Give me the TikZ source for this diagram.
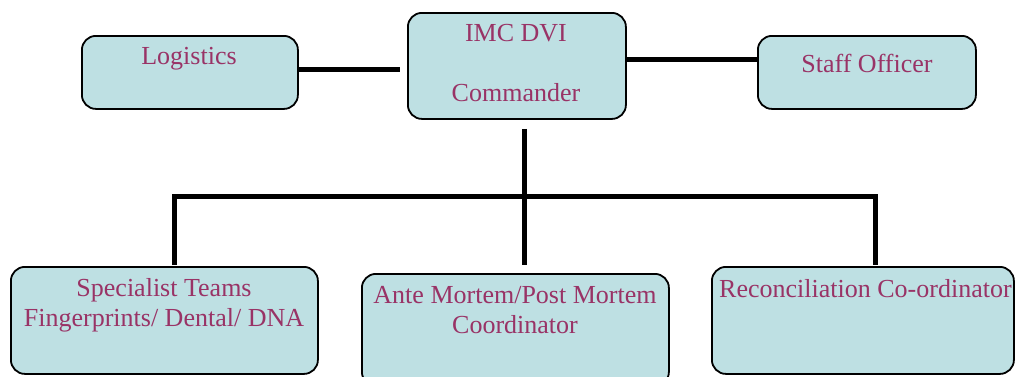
\documentclass[tikz,border=0pt]{standalone}
\usepackage{fontspec}
\setmainfont{Liberation Serif}
\definecolor{boxfill}{RGB}{190,224,227}
\definecolor{labelred}{RGB}{153,51,102}
\begin{document}
\begin{tikzpicture}[x=1pt,y=-1pt,
  unitbox/.style={draw=black, line width=1.8pt, fill=boxfill, rounded corners=14pt,
                  inner sep=0pt, anchor=north west},
  caption/.style={text=labelred, font=\fontsize{26}{30}\selectfont, align=center, inner sep=0pt},
  link/.style={line width=5pt}]
\useasboundingbox (0,0) rectangle (1015,376);

% boxes of the chart
\node[unitbox, minimum width=216pt, minimum height=73pt]  (log)  at (81,35)   {};
\node[unitbox, minimum width=218pt, minimum height=106pt] (cmd)  at (407,12)  {};
\node[unitbox, minimum width=218pt, minimum height=73pt]  (stf)  at (757,35)  {};
\node[unitbox, minimum width=307pt, minimum height=107pt] (spec) at (10,266)  {};
\node[unitbox, minimum width=307pt, minimum height=112pt] (ante) at (361,273) {};
\node[unitbox, minimum width=302pt, minimum height=107pt] (rec)  at (711,266) {};

% captions (base anchor = baseline of the last line)
\node[caption, anchor=base] (logt)  at (189,64)  {Logistics};
\node[caption, anchor=base] (cmdt)  at (516,101) {IMC DVI\\[30pt]Commander};
\node[caption, anchor=base] (stft)  at (867,72)  {Staff Officer};
\node[caption, anchor=base] (spect) at (164,326) {Specialist Teams\\Fingerprints/ Dental/ DNA};
\node[caption, anchor=base] (antet) at (515,333) {Ante Mortem/Post Mortem\\Coordinator};
\node[caption, anchor=base west] (rect) at (719,297) {Reconciliation Co-ordinator};

% connectors
\coordinate (hub) at (524,196);
\draw[link, shorten >=7pt] ([yshift=2.5pt]log.east) -- ([yshift=2.5pt]log.east -| cmd.west);
\draw[link] ([yshift=6pt]cmd.east) -- ([yshift=6pt]cmd.east -| stf.west);
\draw[link] ([xshift=8pt,yshift=-9pt]cmd.south) -- ([xshift=9.5pt,yshift=8pt]ante.north);
\draw[link] ([xshift=10.5pt,yshift=1pt]spec.north) |- (hub) -| ([xshift=13pt,yshift=1pt]rec.north);
\end{tikzpicture}
\end{document}
